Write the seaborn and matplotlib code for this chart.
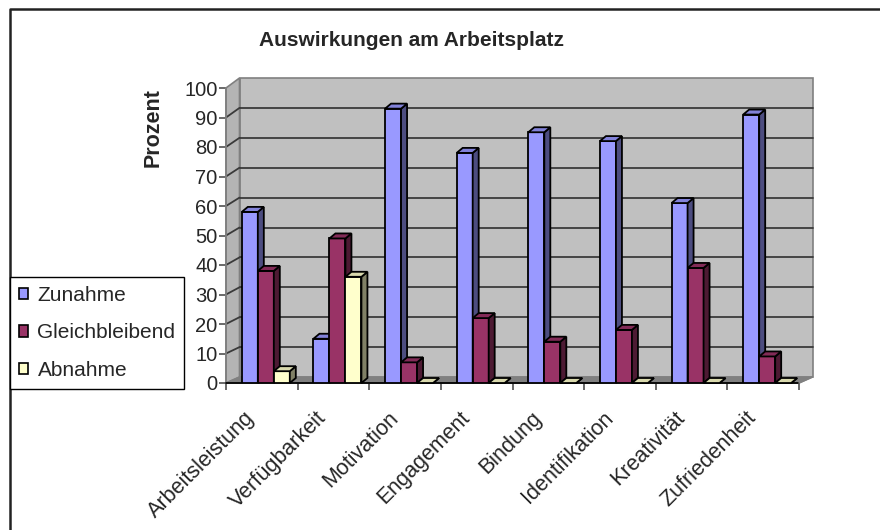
import numpy as np
import pandas as pd
import matplotlib
matplotlib.use("Agg")
import matplotlib.pyplot as plt
import seaborn as sns
from matplotlib.patches import Polygon, Patch
from matplotlib.lines import Line2D
from matplotlib.transforms import ScaledTranslation
from matplotlib.ticker import FixedLocator
import matplotlib.colors as mcolors

# ---------------- data ----------------
kategorien = ['Arbeitsleistung', 'Verfügbarkeit', 'Motivation', 'Engagement',
              'Bindung', 'Identifikation', 'Kreativität', 'Zufriedenheit']
zunahme = [58, 15, 93, 78, 85, 82, 61, 91]
gleichbleibend = [38, 49, 7, 22, 14, 18, 39, 9]
abnahme = [4, 36, 0, 0, 0, 0, 0, 0]
serien = ['Zunahme', 'Gleichbleibend', 'Abnahme']
farben = ['#9999FF', '#993366', '#FFFFCC']
yticks = list(range(0, 101, 10))
titel = 'Auswirkungen am Arbeitsplatz'
ylabel = 'Prozent'

df = pd.DataFrame({
    'Kategorie': kategorien * 3,
    'Serie': [s for s in serien for _ in kategorien],
    'Wert': zunahme + gleichbleibend + abnahme,
})

sns.set_style('white')
plt.rcParams['font.family'] = ['Liberation Sans', 'DejaVu Sans']

W, H = 880, 530
fig = plt.figure(figsize=(W / 100, H / 100), dpi=100)
fig.patch.set_facecolor('white')
ax_l, ax_r, ax_b, ax_t = 226, 799, 383, 88
ax = fig.add_axes([ax_l / W, 1 - ax_b / H, (ax_r - ax_l) / W, (ax_b - ax_t) / H])
ax.set_facecolor('none')

sns.barplot(data=df, x='Kategorie', y='Wert', hue='Serie', hue_order=serien,
            order=kategorien, palette=farben, saturation=1, width=0.67,
            edgecolor='black', linewidth=1.3, legend=False, ax=ax)
bars = list(ax.patches)

ax.set_xlim(-0.5, 7.5)
ax.set_ylim(0, 100)

# geometry helpers (pixel -> data scale)
px_x = (ax_r - ax_l) / 8.0
px_y = (ax_b - ax_t) / 100.0
wall_dx = 13.5 / px_x


def back(v):
    return (6 + 2.99 * v) / px_y


x0, x1 = -0.5, 7.5
# back wall
ax.add_patch(Polygon([(x0 + wall_dx, back(0)), (x1 + wall_dx, back(0)),
                      (x1 + wall_dx, back(100)), (x0 + wall_dx, back(100))],
                     closed=True, facecolor='#C0C0C0', edgecolor='#808080',
                     lw=1.2, clip_on=False, zorder=0.5))
# side wall
ax.add_patch(Polygon([(x0, 0), (x0 + wall_dx, back(0)), (x0 + wall_dx, back(100)),
                      (x0, 100)], closed=True, facecolor='#B4B4B4',
                     edgecolor='#808080', lw=1.2, clip_on=False, zorder=0.6))
# floor
ax.add_patch(Polygon([(x0, 0), (x1, 0), (x1 + wall_dx, back(0)), (x0 + wall_dx, back(0))],
                     closed=True, facecolor='#808080', edgecolor='#808080',
                     lw=1.0, clip_on=False, zorder=0.7))
# grid lines on back and side wall
for v in yticks[1:-1]:
    ax.plot([x0 + wall_dx, x1 + wall_dx], [back(v), back(v)], color='#3a3a3a',
            lw=1.3, clip_on=False, zorder=0.8)
    ax.plot([x0, x0 + wall_dx], [v, back(v)], color='#3a3a3a', lw=1.3,
            clip_on=False, zorder=0.8)
# front axes lines
ax.plot([x0, x0], [0, 100], color='#808080', lw=1.3, clip_on=False, zorder=0.9)
ax.plot([x0, x1], [0, 0], color='black', lw=1.3, clip_on=False, zorder=0.9)
ax.plot([x1, x1 + wall_dx], [0, back(0)], color='#808080', lw=1.2,
        clip_on=False, zorder=0.9)

# 3D faces of bars
shift = 4 / px_x
bdx = 6 / px_x
bdy = 5 / px_y
bars_sorted = sorted(bars, key=lambda p: p.get_x())
for i, p in enumerate(bars_sorted):
    p.set_x(p.get_x() + shift)
    bx, bw, bh = p.get_x(), p.get_width(), p.get_height()
    base = 3 + i * 0.1
    p.set_zorder(base)
    fc = np.array(mcolors.to_rgb(p.get_facecolor()))
    side_c = fc * 0.5
    top_c = fc * 0.85
    ax.add_patch(Polygon([(bx + bw, 0), (bx + bw + bdx, bdy), (bx + bw + bdx, bh + bdy),
                          (bx + bw, bh)], closed=True, facecolor=side_c,
                         edgecolor='black', lw=1.3, zorder=base + 0.01, clip_on=False))
    ax.add_patch(Polygon([(bx, bh), (bx + bw, bh), (bx + bw + bdx, bh + bdy),
                          (bx + bdx, bh + bdy)], closed=True, facecolor=top_c,
                         edgecolor='black', lw=1.3, zorder=base + 0.02, clip_on=False))

for s in ax.spines.values():
    s.set_visible(False)

# ticks
ax.set_yticks(yticks)
ax.set_yticklabels([str(v) for v in yticks], fontsize=14.5)
ax.tick_params(axis='y', direction='out', length=5, width=1.2, color='#505050',
               pad=1, left=True)
ax.set_xticks(range(len(kategorien)))
ax.set_xticklabels(kategorien, fontsize=15.5, rotation=45, ha='right', va='center',
                   rotation_mode='anchor')
ax.tick_params(axis='x', length=0, pad=23, bottom=True)
ax.xaxis.set_minor_locator(FixedLocator(np.arange(-0.5, 8, 1)))
ax.tick_params(axis='x', which='minor', length=5, width=1.2, color='#505050',
               direction='out', bottom=True)
off = ScaledTranslation(-10 / 100, 0, fig.dpi_scale_trans)
for lab in ax.get_xticklabels():
    lab.set_transform(lab.get_transform() + off)
ax.set_xlabel('')
ax.set_ylabel('')

# title and y label
fig.text(411 / W, 1 - 41 / H, titel, ha='center', va='center', fontsize=15,
         fontweight='bold')
fig.text(153 / W, 1 - 128 / H, ylabel, ha='center', va='center', fontsize=15.5,
         fontweight='bold', rotation=90)

# legend
handles = [Patch(facecolor=c, edgecolor='black', lw=1.2) for c in farben]
leg = fig.legend(handles, serien, loc='upper left',
                 bbox_to_anchor=(10 / W, 1 - 277 / H), borderaxespad=0,
                 frameon=True, fancybox=False, edgecolor='black', fontsize=15,
                 handlelength=0.45, handleheight=0.45, labelspacing=0.9,
                 borderpad=0.42, handletextpad=0.45, framealpha=1)
leg.get_frame().set_linewidth(1.0)

# figure border (left and top)
fig.add_artist(Line2D([10 / W, 10 / W, 1], [0, 1 - 9 / H, 1 - 9 / H],
                      transform=fig.transFigure, color='#222222', lw=1.8))

fig.savefig('out.png', dpi=100)
